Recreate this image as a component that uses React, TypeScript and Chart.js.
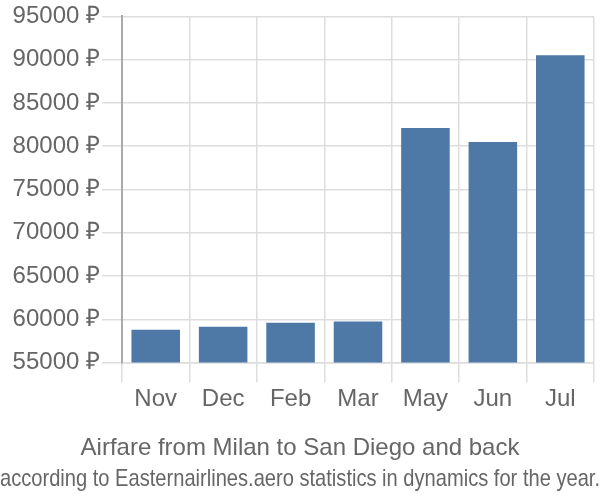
import React, { useEffect, useRef } from "react";
import { Chart, registerables } from "chart.js";

Chart.register(...registerables);

const categories = ["Nov", "Dec", "Feb", "Mar", "May", "Jun", "Jul"];
const prices = [58800, 59150, 59600, 59750, 82100, 80500, 90500];
const yMin = 55000;
const yMax = 95000;
const yStep = 5000;
const currency = "₽";
const titleText = "Airfare from Milan to San Diego and back";
const subtitleText = "according to Easternairlines.aero statistics in dynamics for the year.";

const FAMILY = "'Liberation Sans', Arial, sans-serif";

export default function App() {
  const ref = useRef<HTMLCanvasElement>(null);
  useEffect(() => {
    if (!ref.current) return;
    const chart = new Chart(ref.current, {
      type: "bar",
      data: {
        labels: categories,
        datasets: [
          {
            data: prices,
            backgroundColor: "#4e79a7",
            borderWidth: 0,
          },
        ],
      },
      options: {
        animation: false,
        responsive: false,
        layout: { padding: { top: 1, right: 0, left: 0, bottom: 0 } },
        plugins: {
          legend: { display: false },
          tooltip: { enabled: false },
          title: {
            display: true,
            text: titleText,
            position: "bottom",
            weight: 1000,
            color: "#666",
            font: { size: 24, weight: "normal", family: FAMILY },
            padding: { top: 19, bottom: 1 },
          } as any,
          subtitle: {
            display: true,
            text: subtitleText,
            position: "bottom",
            weight: 1500,
            color: "#666",
            font: { size: 24, weight: "normal", family: FAMILY },
            padding: { top: 1, bottom: 6 },
          } as any,
        },
        scales: {
          x: {
            grid: { color: "#dddddd", lineWidth: 1.5, tickLength: 20, offset: true },
            border: { color: "#dddddd", width: 1.5 },
            ticks: {
              color: "#666",
              padding: 2,
              font: { size: 24, family: FAMILY },
            },
          },
          y: {
            min: yMin,
            max: yMax,
            grid: { color: "#dddddd", lineWidth: 1.5, tickLength: 20 },
            border: { color: "#aaaaaa", width: 2 },
            ticks: {
              stepSize: yStep,
              color: "#666",
              padding: 2,
              font: { size: 24, family: FAMILY },
              callback: (v: any) => `${v} ${currency}`,
            },
            afterFit: (s: any) => {
              s.width = 122;
            },
          },
          yRightSpacer: {
            type: "linear",
            position: "right",
            display: true,
            grid: { display: false, drawTicks: false },
            border: { display: false },
            ticks: { display: false },
            afterFit: (s: any) => {
              s.width = 6;
            },
          },
        },
      },
    });
    return () => chart.destroy();
  }, []);
  return (
    <div style={{ width: 600, height: 500, position: "absolute", left: 0, top: 0 }}>
      <canvas ref={ref} width={600} height={500} style={{ width: 600, height: 500 }} />
    </div>
  );
}
